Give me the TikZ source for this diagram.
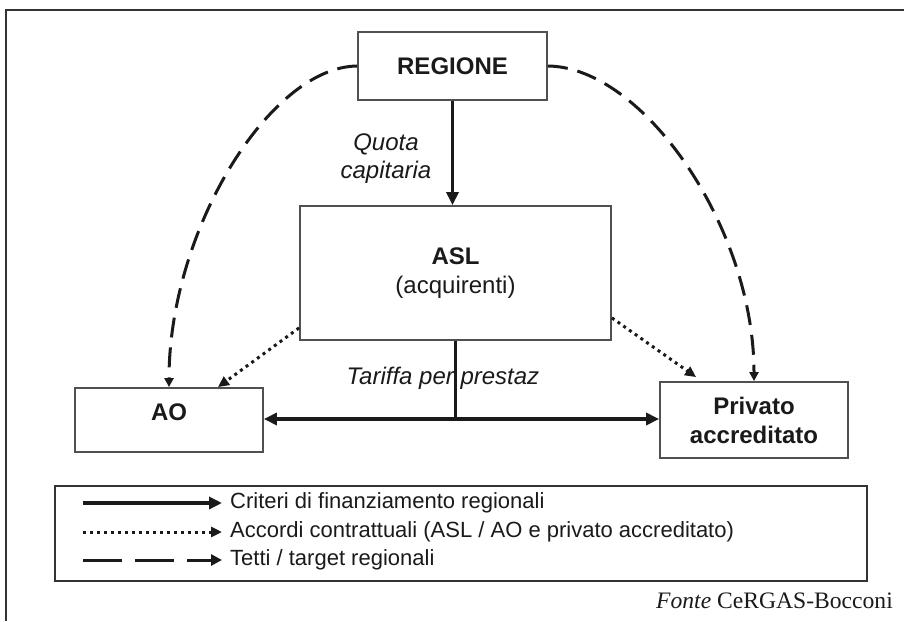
\documentclass[tikz,border=0pt]{standalone}
\usepackage{fontspec}
\setmainfont{Liberation Sans}
\newfontfamily\serifface{Liberation Serif}
\usetikzlibrary{arrows.meta}
\definecolor{ink}{HTML}{1A1A1A}
\definecolor{boxgray}{HTML}{505050}
\definecolor{framegray}{HTML}{333333}
\begin{document}
\begin{tikzpicture}[x=1pt,y=-1pt,
  box/.style={draw=boxgray,line width=1.8pt,fill=white,inner sep=0pt,align=center,text=ink,
              font=\fontsize{24}{29}\selectfont\bfseries},
  lbl/.style={inner sep=0pt,text=ink,align=center,font=\fontsize{24}{28}\selectfont\itshape},
  legtxt/.style={inner sep=0pt,text=ink,anchor=west,text height=16pt,text depth=5pt,
                 font=\fontsize{22}{26}\selectfont},
  main/.style={line width=3.5pt,draw=ink,-{Triangle[length=13pt,width=12pt]}},
  dotarrow/.style={line width=3pt,draw=ink,dash pattern=on 3pt off 4pt,-{Triangle[length=11pt,width=10pt]}},
  dasharrow/.style={line width=3pt,draw=ink,dash pattern=on 20pt off 10pt,-{Triangle[length=9pt,width=9pt]}},
  legdash/.style={line width=3pt,draw=ink,dash pattern=on 39pt off 13pt,-{Triangle[length=11pt,width=11pt]}},
]
\useasboundingbox (0,0) rectangle (904,621);

% outer frame (top and left rules)
\draw[line width=2.5pt,draw=framegray] (6,621) -- (6,10) -- (904,10);

% boxes
\node[box,minimum width=189pt,minimum height=68pt] (reg) at (452.5,66) {REGIONE};
\node[box,minimum width=311pt,minimum height=134pt] (asl) at (455.5,273)
  {ASL\\\mdseries(acquirenti)};
\node[box,minimum width=188pt,minimum height=64pt] (ao) at (169,420) {};
\node[inner sep=0pt,text=ink,font=\fontsize{24}{29}\selectfont\bfseries] (aotxt) at (169,412) {AO};
\node[box,minimum width=188pt,minimum height=76pt] (priv) at (754,420) {Privato\\accreditato};

% financing flows
\coordinate (jn) at (455.5,419);
\draw[main] (reg.south) -- (reg.south |- asl.north);
\draw[main,line join=miter] (asl.south) -- (asl.south |- jn) -- (ao.east |- jn);
\draw[main] (asl.south |- jn) -- (priv.west |- jn);

% contractual agreements
\draw[dotarrow] ([yshift=13pt]asl.south west) -- ([xshift=49pt]ao.north);
\draw[dotarrow] ([yshift=23pt]asl.south east) -- ([xshift=37pt,yshift=4pt]priv.north west);

% regional ceilings
\draw[dasharrow] (reg.west) .. controls (270,67) and (169,230) .. (ao.north);
\draw[dasharrow] (reg.east) .. controls (643,67) and (754,227) .. (priv.north);

% flow labels
\node[lbl] (quota) at (386,159) {Quota\\capitaria};
\node[lbl] (tariffa) at (443,378) {Tariffa per prestaz};

% legend
\node[draw=framegray,line width=2.2pt,minimum width=812pt,minimum height=95pt,inner sep=0pt] (legend) at (461,533.5) {};
\coordinate (l1s) at (83,503); \coordinate (l1e) at (222,503);
\coordinate (l2s) at (83,532); \coordinate (l2e) at (222,532);
\coordinate (l3s) at (83,560); \coordinate (l3e) at (222,560);
\draw[main] (l1s) -- (l1e);
\draw[dotarrow] (l2s) -- (l2e);
\draw[legdash] (l3s) -- (l3e);
\node[legtxt] (t1) at (230,503) {Criteri di finanziamento regionali};
\node[legtxt] (t2) at (230,532) {Accordi contrattuali (ASL / AO e privato accreditato)};
\node[legtxt] (t3) at (230,560) {Tetti / target regionali};

% source
\node[anchor=base east,inner sep=0pt,text=ink,font=\serifface\fontsize{23.6}{28}\selectfont] (fonte)
  at (893,608) {\textit{Fonte} CeRGAS-Bocconi};
\end{tikzpicture}
\end{document}
